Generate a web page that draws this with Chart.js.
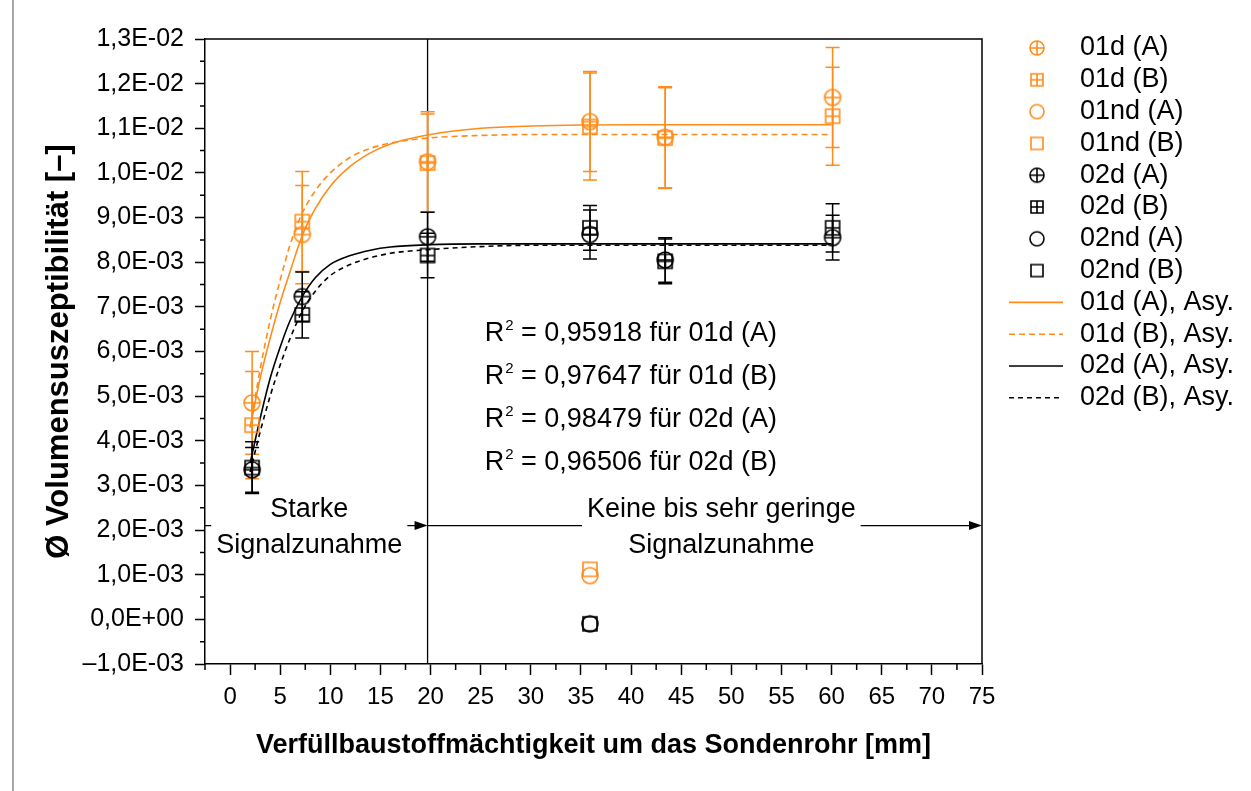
<!DOCTYPE html>
<html>
<head>
<meta charset="utf-8">
<script src="https://cdn.jsdelivr.net/npm/chart.js@4.4.0/dist/chart.umd.min.js"></script>
<style>
  html, body { margin: 0; padding: 0; background: #fff; }
  #wrap { position: relative; width: 1251px; height: 791px; }
</style>
</head>
<body>
<div id="wrap"><canvas id="chart" width="1251" height="791"></canvas></div>
<script>
const orange = '#FF8C1A';
const black = '#000000';

// measured points (x = fill thickness in mm)
const xPos = [2.2, 7.2, 19.7, 35.9, 43.4, 60.1];
const d01A = [4.85e-3, 8.62e-3, 10.25e-3, 11.15e-3, 10.80e-3, 11.69e-3];
const d01AErr = [1.15e-3, 1.10e-3, 1.12e-3, 1.12e-3, 1.13e-3, 1.12e-3];
const d01B = [4.35e-3, 8.91e-3, 10.22e-3, 11.04e-3, 10.78e-3, 11.27e-3];
const d01BErr = [1.20e-3, 1.12e-3, 1.10e-3, 1.20e-3, 1.13e-3, 1.10e-3];
const d02A = [3.35e-3, 7.23e-3, 8.57e-3, 8.62e-3, 8.05e-3, 8.55e-3];
const d02AErr = [0.50e-3, 0.55e-3, 0.55e-3, 0.55e-3, 0.50e-3, 0.50e-3];
const d02B = [3.40e-3, 6.82e-3, 8.15e-3, 8.77e-3, 8.02e-3, 8.77e-3];
const d02BErr = [0.58e-3, 0.52e-3, 0.50e-3, 0.50e-3, 0.50e-3, 0.54e-3];

// "nd" points
const ndX = [35.9];
const nd01A = [0.98e-3];
const nd01B = [1.12e-3];
const nd02A = [-0.10e-3];
const nd02B = [-0.10e-3];

// asymptotic fit curves
const fitX = [2, 3, 4, 5, 6, 7.2, 8.5, 10, 12, 14, 16, 19.7, 25, 30, 40, 50, 60];
const fit01A = [4.3, 5.4, 6.3, 7.1, 7.8, 8.6, 9.2, 9.7, 10.15, 10.45, 10.65, 10.85, 11.0, 11.05, 11.08, 11.08, 11.08];
const fit01B = [4.3, 5.6, 6.7, 7.6, 8.4, 9.1, 9.6, 10.0, 10.35, 10.55, 10.67, 10.78, 10.84, 10.86, 10.86, 10.86, 10.86];
const fit02A = [3.5, 4.5, 5.4, 6.1, 6.7, 7.23, 7.65, 7.95, 8.15, 8.27, 8.34, 8.39, 8.41, 8.41, 8.41, 8.41, 8.41];
const fit02B = [3.3, 4.2, 5.0, 5.7, 6.3, 6.9, 7.35, 7.7, 7.95, 8.1, 8.2, 8.28, 8.35, 8.38, 8.38, 8.38, 8.38];

const xTickValues = [0, 5, 10, 15, 20, 25, 30, 35, 40, 45, 50, 55, 60, 65, 70, 75];
const xTickLabels = ['0', '5', '10', '15', '20', '25', '30', '35', '40', '45', '50', '55', '60', '65', '70', '75'];
const yTickValues = [-1e-3, 0, 1e-3, 2e-3, 3e-3, 4e-3, 5e-3, 6e-3, 7e-3, 8e-3, 9e-3, 10e-3, 11e-3, 12e-3, 13e-3];
const yTickLabels = ['\u20131,0E-03', '0,0E+00', '1,0E-03', '2,0E-03', '3,0E-03', '4,0E-03', '5,0E-03', '6,0E-03',
  '7,0E-03', '8,0E-03', '9,0E-03', '1,0E-02', '1,1E-02', '1,2E-02', '1,3E-02'];

const rValues = ['0,95918', '0,97647', '0,98479', '0,96506'];
const rSeries = ['01d (A)', '01d (B)', '02d (A)', '02d (B)'];

const FONT = '"Liberation Sans", Arial, sans-serif';

function marker(kind, color, size) {
  const c = document.createElement('canvas');
  const s = size + 4;
  c.width = s;
  c.height = s;
  const g = c.getContext('2d');
  g.strokeStyle = color;
  g.lineWidth = 1.6;
  const m = s / 2, r = size / 2;
  g.beginPath();
  if (kind.startsWith('circle')) g.arc(m, m, r, 0, 2 * Math.PI);
  else g.rect(m - r, m - r, size, size);
  if (kind.endsWith('Plus')) {
    g.moveTo(m - r, m); g.lineTo(m + r, m);
    g.moveTo(m, m - r); g.lineTo(m, m + r);
  }
  g.stroke();
  return c;
}

function pts(xs, ys) {
  return ys.map((v, i) => ({ x: xs[i], y: v }));
}
function fit(ys) {
  return ys.map((v, i) => ({ x: fitX[i], y: v * 1e-3 }));
}

const pointSets = [
  { label: '01d (A)', data: pts(xPos, d01A), errors: d01AErr, kind: 'circlePlus', color: orange },
  { label: '01d (B)', data: pts(xPos, d01B), errors: d01BErr, kind: 'squarePlus', color: orange },
  { label: '01nd (A)', data: pts(ndX, nd01A), kind: 'circle', color: orange },
  { label: '01nd (B)', data: pts(ndX, nd01B), kind: 'square', color: orange },
  { label: '02d (A)', data: pts(xPos, d02A), errors: d02AErr, kind: 'circlePlus', color: black },
  { label: '02d (B)', data: pts(xPos, d02B), errors: d02BErr, kind: 'squarePlus', color: black },
  { label: '02nd (A)', data: pts(ndX, nd02A), kind: 'circle', color: black },
  { label: '02nd (B)', data: pts(ndX, nd02B), kind: 'square', color: black }
].map(s => ({
  label: s.label,
  data: s.data,
  errors: s.errors,
  kind: s.kind,
  borderColor: s.color,
  backgroundColor: s.color,
  pointStyle: marker(s.kind, s.color, s.kind.startsWith('circle') ? 16 : 14),
  legendStyle: marker(s.kind, s.color, s.kind.startsWith('circle') ? 14 : 12),
  pointRadius: 8,
  showLine: false
}));

const curveSets = [
  { label: '01d (A), Asy.', data: fit(fit01A), color: orange, dash: [] },
  { label: '01d (B), Asy.', data: fit(fit01B), color: orange, dash: [6, 4] },
  { label: '02d (A), Asy.', data: fit(fit02A), color: black, dash: [] },
  { label: '02d (B), Asy.', data: fit(fit02B), color: black, dash: [5, 4] }
].map(s => ({
  label: s.label,
  data: s.data,
  borderColor: s.color,
  backgroundColor: s.color,
  borderDash: s.dash,
  borderWidth: 1.6,
  pointRadius: 0,
  showLine: true,
  cubicInterpolationMode: 'monotone'
}));

function arrowHead(ctx, x, y) {
  ctx.beginPath();
  ctx.moveTo(x, y);
  ctx.lineTo(x - 13, y - 4.5);
  ctx.lineTo(x - 13, y + 4.5);
  ctx.closePath();
  ctx.fill();
}

// arrow with a two line label sitting on it
function labelledArrow(ctx, x0, x1, y, cx, lines) {
  ctx.font = '27px ' + FONT;
  const w = Math.max(...lines.map(t => ctx.measureText(t).width)) + 10;
  ctx.beginPath();
  ctx.moveTo(x0, y); ctx.lineTo(Math.max(x0, cx - w / 2), y);
  ctx.moveTo(cx + w / 2, y); ctx.lineTo(x1 - 6, y);
  ctx.stroke();
  arrowHead(ctx, x1, y);
  ctx.textAlign = 'center';
  ctx.textBaseline = 'middle';
  ctx.fillText(lines[0], cx, y - 16);
  ctx.fillText(lines[1], cx, y + 20);
}

const extras = {
  id: 'extras',
  beforeDatasetsDraw(chart) {
    const { ctx, chartArea: a, scales: { x, y } } = chart;
    ctx.save();
    // divider between the two zones
    const xd = x.getPixelForValue(19.7);
    ctx.strokeStyle = '#000';
    ctx.fillStyle = '#000';
    ctx.lineWidth = 1.3;
    ctx.beginPath();
    ctx.moveTo(xd, a.top); ctx.lineTo(xd, a.bottom);
    ctx.stroke();
    const ya = y.getPixelForValue(2.1e-3);
    labelledArrow(ctx, a.left, xd, ya, x.getPixelForValue(7.9), ['Starke', 'Signalzunahme']);
    labelledArrow(ctx, xd, a.right, ya, x.getPixelForValue(49.0), ['Keine bis sehr geringe', 'Signalzunahme']);

    // error bars
    ctx.lineWidth = 1.5;
    chart.data.datasets.forEach(ds => {
      if (!ds.errors) return;
      ctx.strokeStyle = ds.borderColor;
      ds.data.forEach((p, i) => {
        const px = x.getPixelForValue(p.x);
        const t = y.getPixelForValue(p.y + ds.errors[i]);
        const b = y.getPixelForValue(p.y - ds.errors[i]);
        ctx.beginPath();
        ctx.moveTo(px, t); ctx.lineTo(px, b);
        ctx.moveTo(px - 7, t); ctx.lineTo(px + 7, t);
        ctx.moveTo(px - 7, b); ctx.lineTo(px + 7, b);
        ctx.stroke();
      });
    });
    ctx.restore();
  },
  afterDraw(chart) {
    const { ctx, chartArea: a, scales: { x, y } } = chart;
    ctx.save();
    ctx.strokeStyle = '#000';
    ctx.fillStyle = '#000';
    ctx.lineWidth = 1.5;
    // frame top/right
    ctx.beginPath();
    ctx.moveTo(a.left, a.top); ctx.lineTo(a.right, a.top); ctx.lineTo(a.right, a.bottom);
    ctx.stroke();
    // minor ticks
    ctx.beginPath();
    for (let v = -2.5; v <= 75; v += 5) {
      const px = x.getPixelForValue(v);
      ctx.moveTo(px, a.bottom); ctx.lineTo(px, a.bottom + 6);
    }
    for (let k = -1; k < 13; k++) {
      const py = y.getPixelForValue((k + 0.5) * 1e-3);
      ctx.moveTo(a.left, py); ctx.lineTo(a.left - 5, py);
    }
    ctx.stroke();

    // R² texts
    const rx = x.getPixelForValue(25.4);
    const ry = y.getPixelForValue(6.40e-3);
    ctx.textAlign = 'left';
    ctx.textBaseline = 'middle';
    rValues.forEach((val, i) => {
      const ty = ry + i * 43;
      let tx = rx;
      ctx.font = '27px ' + FONT;
      ctx.fillText('R', tx, ty);
      tx += ctx.measureText('R').width + 1;
      ctx.font = '15px ' + FONT;
      ctx.fillText('2', tx, ty - 8);
      tx += ctx.measureText('2').width;
      ctx.font = '27px ' + FONT;
      ctx.fillText(' = ' + val + ' f\u00fcr ' + rSeries[i], tx, ty);
    });

    // legend
    const all = chart.data.datasets;
    all.forEach((ds, i) => {
      const ly = 48 + i * 31.8;
      if (ds.legendStyle) {
        const m = ds.legendStyle;
        ctx.drawImage(m, 1037 - m.width / 2, ly - m.height / 2);
      } else {
        ctx.strokeStyle = ds.borderColor;
        ctx.lineWidth = 1.6;
        ctx.setLineDash(ds.borderDash);
        ctx.beginPath();
        ctx.moveTo(1009, ly); ctx.lineTo(1063, ly);
        ctx.stroke();
        ctx.setLineDash([]);
      }
      ctx.fillStyle = '#000';
      ctx.font = '27px ' + FONT;
      ctx.fillText(ds.label, 1080, ly);
    });

    // picture border
    ctx.strokeStyle = '#8a8a8a';
    ctx.lineWidth = 1.5;
    ctx.beginPath();
    ctx.moveTo(13, 0); ctx.lineTo(13, chart.height);
    ctx.stroke();
    ctx.restore();
  }
};

Chart.defaults.font.family = FONT;
Chart.defaults.color = '#000';

const chart = new Chart(document.getElementById('chart').getContext('2d'), {
  type: 'scatter',
  data: { datasets: [...pointSets, ...curveSets] },
  options: {
    responsive: false,
    animation: false,
    layout: { padding: { top: 39, right: 269, left: 0, bottom: 0 } },
    plugins: { legend: { display: false }, tooltip: { enabled: false } },
    scales: {
      x: {
        type: 'linear',
        min: -2.5,
        max: 75,
        afterBuildTicks: s => { s.ticks = xTickValues.map(v => ({ value: v })); },
        afterFit: s => { s.height = 127; },
        ticks: {
          autoSkip: false,
          maxRotation: 0,
          padding: 8,
          font: { family: '"Liberation Sans Narrow", "Arial Narrow", ' + FONT, size: 24 },
          callback: (v, i) => xTickLabels[i]
        },
        grid: { drawOnChartArea: false, tickLength: 11, tickWidth: 1.5, tickColor: '#000' },
        border: { color: '#000', width: 1.5 },
        title: {
          display: true,
          text: 'Verf\u00fcllbaustoffm\u00e4chtigkeit um das Sondenrohr [mm]',
          font: { size: 27, weight: 'bold' },
          padding: { top: 0, bottom: 29 }
        }
      },
      y: {
        type: 'linear',
        min: -1e-3,
        max: 13e-3,
        afterBuildTicks: s => { s.ticks = yTickValues.map(v => ({ value: v })); },
        afterFit: s => { s.width = 205; },
        ticks: {
          autoSkip: false,
          padding: 11,
          font: { size: 25 },
          callback: (v, i) => yTickLabels[i]
        },
        grid: { drawOnChartArea: false, tickLength: 10, tickWidth: 1.5, tickColor: '#000' },
        border: { color: '#000', width: 1.5 },
        title: {
          display: true,
          text: '\u00d8 Volumensuszeptibilit\u00e4t [\u2013]',
          font: { size: 31, weight: 'bold' },
          padding: { top: 41, bottom: 0 }
        }
      }
    }
  },
  plugins: [extras]
});
</script>
</body>
</html>
